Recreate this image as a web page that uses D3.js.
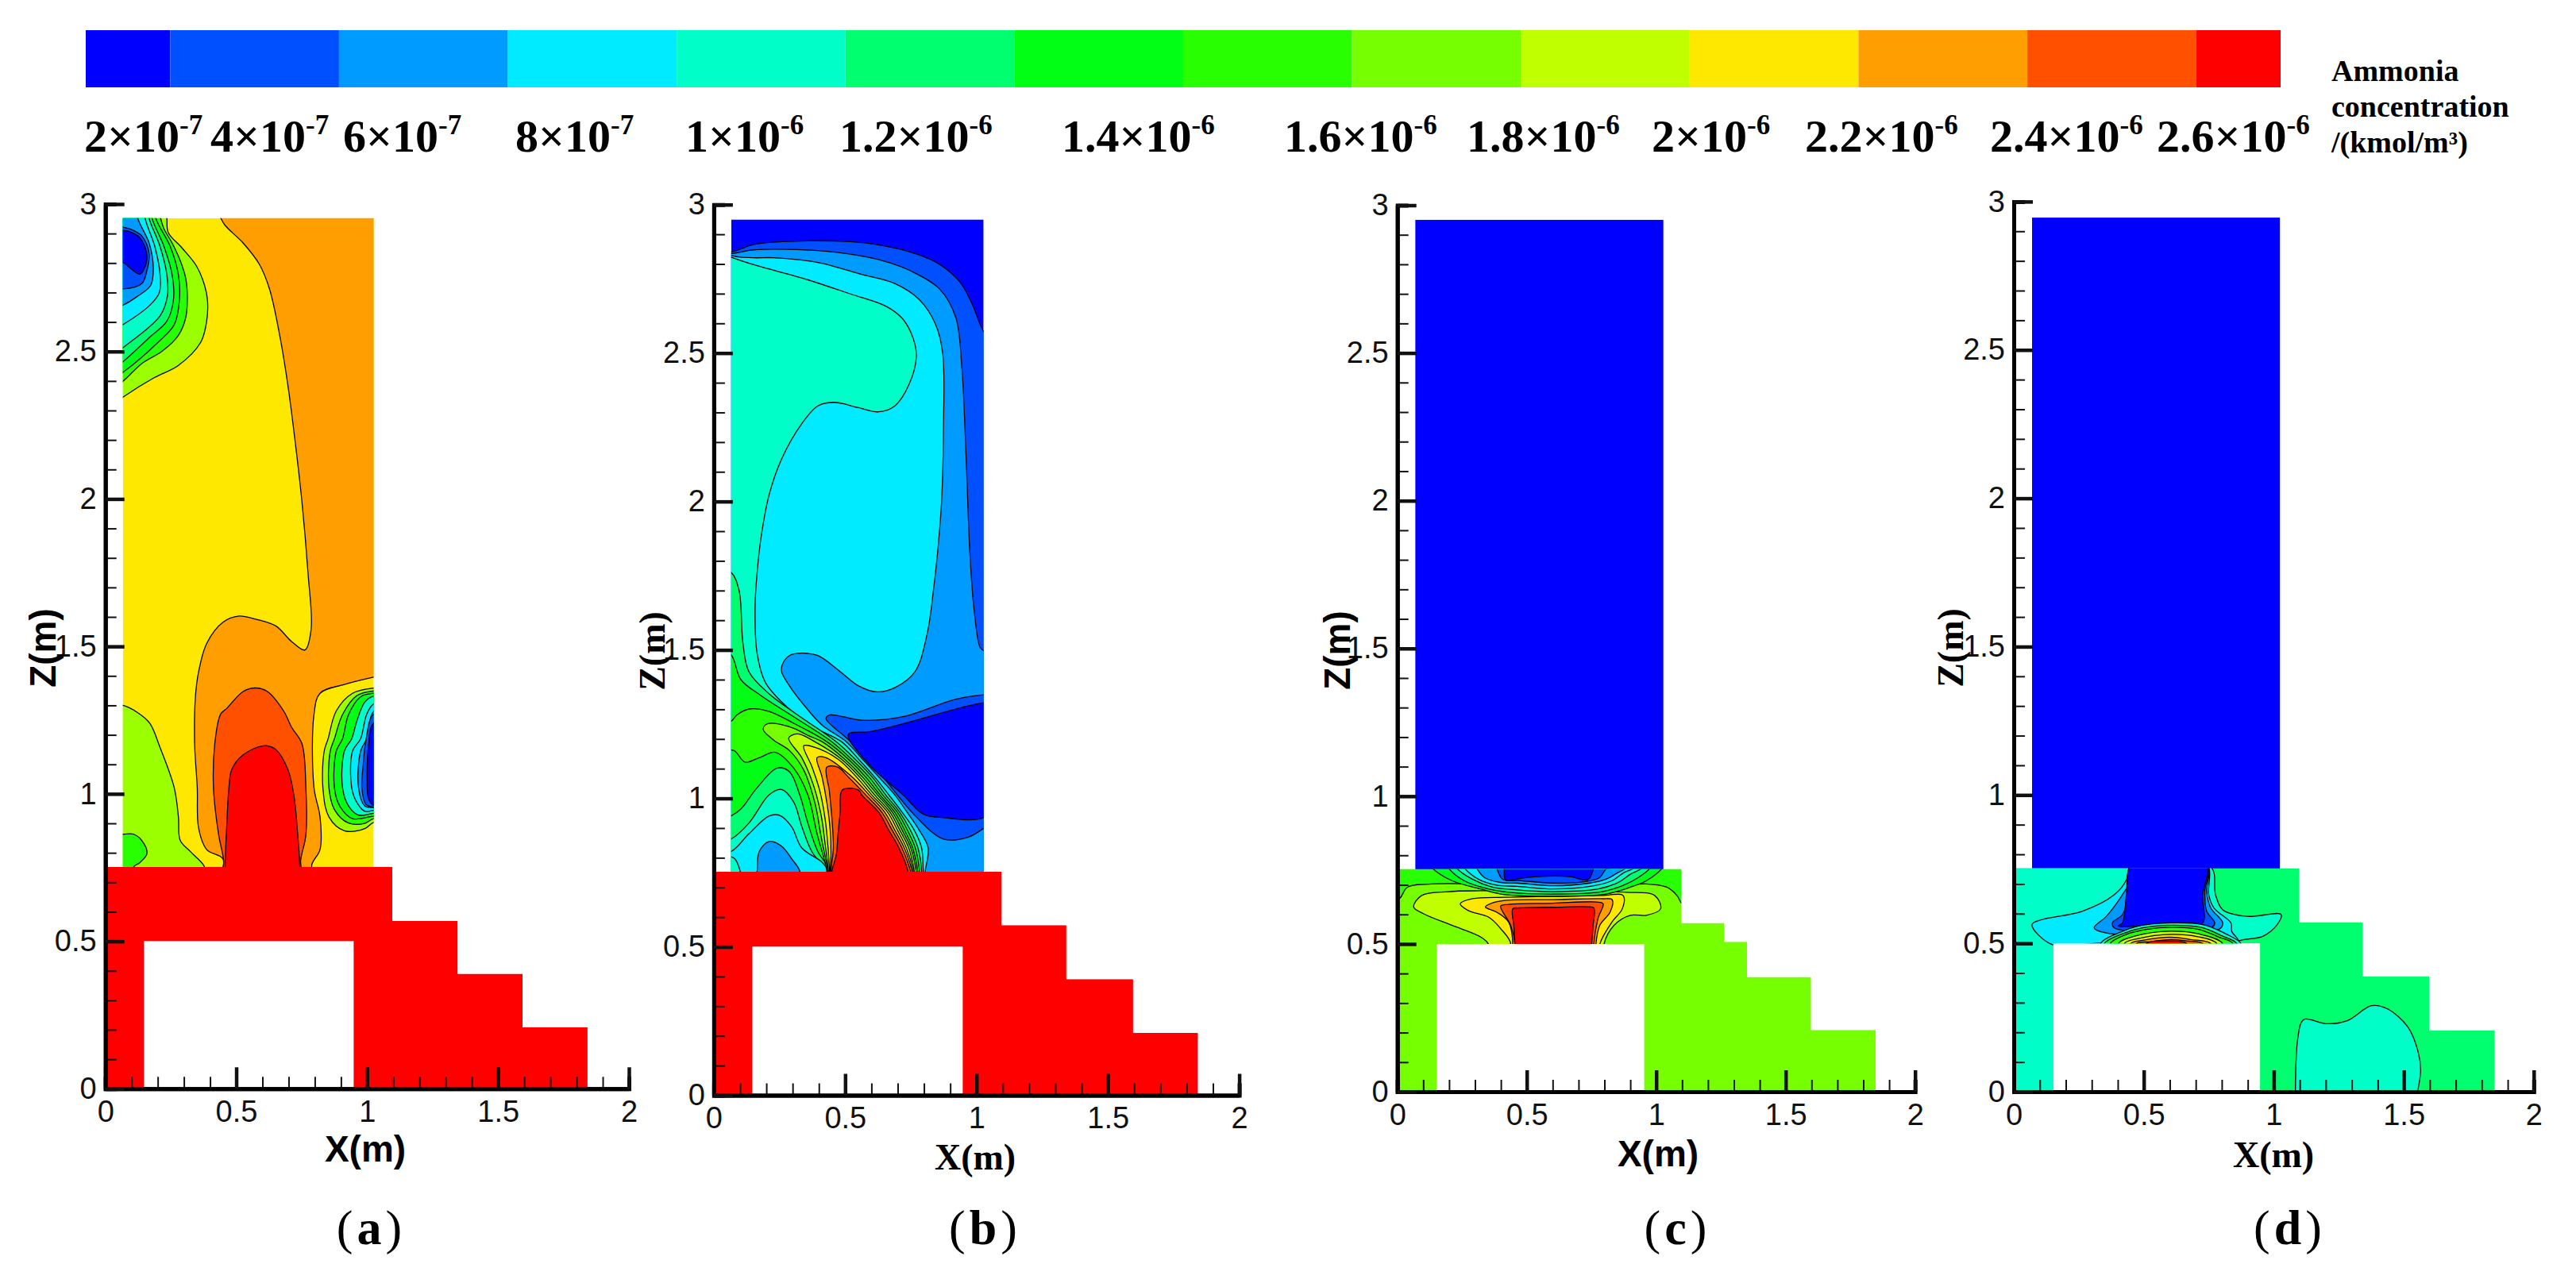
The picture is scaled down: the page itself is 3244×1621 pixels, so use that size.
<!DOCTYPE html>
<html>
<head>
<meta charset="utf-8">
<script src="https://cdn.jsdelivr.net/npm/d3@7"></script>
<style>
  html, body { margin: 0; background: #fff; }
  svg { display: block; }
</style>
</head>
<body>
<svg id="chart" width="3244" height="1621"></svg>
<script>
// concentration levels in units of 1e-7 kmol/m3, one colour per band
const legendLevels = [0, 2, 4, 6, 8, 10, 12, 14, 16, 18, 20, 22, 24, 26];
const legendColors = ['#0000ff', '#0050ff', '#009bff', '#00ebff', '#00ffc8', '#00ff6e', '#00ff14',
  '#28ff00', '#75ff00', '#bfff00', '#ffe800', '#ff9e00', '#ff5000', '#ff0000'];
const legendMantissa = ['2', '4', '6', '8', '1', '1.2', '1.4', '1.6', '1.8', '2', '2.2', '2.4', '2.6'];
const legendExponent = ['-7', '-7', '-7', '-7', '-6', '-6', '-6', '-6', '-6', '-6', '-6', '-6', '-6'];
const legendTitle = ['Ammonia', 'concentration', '/(kmol/m³)'];

const axisMajor = [0, 0.5, 1, 1.5, 2];
const zAxisMajor = [0, 0.5, 1, 1.5, 2, 2.5, 3];
const axisMinor = d3.range(1, 20).map(d => d / 10).filter(d => (d * 10) % 5 !== 0);
const zAxisMinor = d3.range(1, 30).map(d => d / 10).filter(d => (d * 10) % 5 !== 0);

// solid part of the geometry, [x, z] in metres
const outlineA = [[0, 0], [.148, 0], [.148, .5], [.948, .5], [.948, 0], [1.842, 0], [1.842, .209], [1.594, .209], [1.594, .39], [1.346, .39], [1.346, .569], [1.096, .569], [1.096, .752], [0, .752]];
const outlineB = [[0, 0], [.147, 0], [.147, .5], [.947, .5], [.947, 0], [1.843, 0], [1.843, .21], [1.596, .21], [1.596, .391], [1.342, .391], [1.342, .573], [1.095, .573], [1.095, .753], [0, .753]];
const outlineC = [[0, 0], [.152, 0], [.152, .5], [.953, .5], [.953, 0], [1.848, 0], [1.848, .209], [1.598, .209], [1.598, .388], [1.351, .388], [1.351, .5075], [1.263, .5075], [1.263, .571], [1.097, .571], [1.097, .753], [0, .753]];
const outlineD = [[0, 0], [.152, 0], [.152, .5], [.947, .5], [.947, 0], [1.85, 0], [1.85, .206], [1.598, .206], [1.598, .388], [1.342, .388], [1.342, .571], [1.098, .571], [1.098, .753], [0, .753]];

// contour regions: [level, [[x, z], ...]], painted in order
const contoursA = [
  [22, [[.42, 3], [.441, 2.952], [.457, 2.928], [.526, 2.868], [.588, 2.796], [.627, 2.712], [.666, 2.555], [.697, 2.387], [.72, 2.231], [.751, 1.99], [.774, 1.75], [.786, 1.558], [.762, 1.488], [.712, 1.516], [.65, 1.57], [.557, 1.596], [.511, 1.603], [.449, 1.582], [.387, 1.51], [.356, 1.413], [.344, 1.329], [.341, 1.17], [.351, 1.021], [.356, .885], [.387, .811], [.449, .78], [.452, .7], [.789, .7], [.789, .761], [.82, .811], [.82, .922], [.797, 1.021], [.797, 1.269], [.82, 1.341], [.913, 1.371], [1.025, 1.396], [1.1, 1.41], [1.1, 3]]],
  [24, [[.44, 1.27], [.464, 1.29], [.526, 1.347], [.573, 1.359], [.619, 1.347], [.681, 1.281], [.712, 1.225], [.751, 1.17], [.766, 1.021], [.766, .86], [.746, .774], [.746, .7], [.452, .7], [.452, .774], [.433, .86], [.413, 1.021], [.418, 1.17]]],
  [26, [[.457, .752], [.464, .897], [.472, 1.021], [.483, 1.083], [.526, 1.132], [.604, 1.163], [.65, 1.151], [.697, 1.083], [.72, .996], [.735, .86], [.743, .752], [.743, .7], [.457, .7]]],
  [17, [[0, 1.3], [.067, 1.3], [.124, 1.275], [.17, 1.239], [.209, 1.157], [.263, 1.021], [.279, .922], [.286, .842], [.325, .804], [.379, .752], [.38, .7], [0, .7]]],
  [14, [[0, .863], [.067, .863], [.108, .863], [.139, .842], [.159, .798], [.132, .767], [.108, .752], [.1, .7], [0, .7]]],
  [17, [[.23, 3], [.235, 2.952], [.24, 2.904], [.294, 2.85], [.348, 2.79], [.379, 2.724], [.39, 2.675], [.387, 2.603], [.364, 2.531], [.279, 2.453], [.186, 2.411], [.067, 2.345], [0, 2.3], [0, 3]]],
  [14, [[.2, 3], [.211, 2.952], [.224, 2.916], [.255, 2.868], [.286, 2.808], [.307, 2.748], [.313, 2.688], [.307, 2.615], [.279, 2.555], [.217, 2.501], [.139, 2.459], [.067, 2.399], [0, 2.36], [0, 3]]],
  [12, [[.19, 3], [.193, 2.952], [.248, 2.856], [.279, 2.76], [.283, 2.675], [.263, 2.591], [.201, 2.531], [.067, 2.429], [0, 2.39], [0, 3]]],
  [10, [[.17, 3], [.178, 2.952], [.224, 2.856], [.255, 2.76], [.26, 2.675], [.235, 2.603], [.17, 2.549], [.067, 2.465], [0, 2.42], [0, 3]]],
  [8, [[.16, 3], [.167, 2.952], [.209, 2.856], [.235, 2.76], [.237, 2.688], [.209, 2.621], [.067, 2.513], [0, 2.47], [0, 3]]],
  [6, [[.15, 3], [.152, 2.952], [.189, 2.856], [.209, 2.76], [.206, 2.7], [.17, 2.657], [.067, 2.591], [0, 2.56], [0, 3]]],
  [4, [[.12, 3], [.124, 2.952], [.167, 2.868], [.183, 2.784], [.173, 2.724], [.124, 2.688], [.067, 2.657], [0, 2.64], [0, 3]]],
  [2, [[0, 2.72], [.067, 2.712], [.139, 2.73], [.158, 2.772], [.167, 2.832], [.139, 2.892], [.093, 2.916], [.067, 2.922], [0, 2.93]]],
  [0, [[0, 2.8], [.067, 2.802], [.093, 2.784], [.132, 2.762], [.155, 2.796], [.158, 2.832], [.132, 2.886], [.093, 2.906], [.067, 2.91], [0, 2.91]]],
  [17, [[1.1, 1.36], [1.025, 1.359], [.944, 1.341], [.882, 1.281], [.851, 1.187], [.836, 1.145], [.831, 1.021], [.854, .922], [.913, .875], [.991, .882], [1.025, .903], [1.1, .9]]],
  [14, [[1.1, 1.35], [1.025, 1.349], [.96, 1.333], [.906, 1.269], [.875, 1.187], [.859, 1.145], [.854, 1.021], [.875, .947], [.929, .901], [.991, .9], [1.025, .916], [1.1, .915]]],
  [12, [[1.1, 1.34], [1.025, 1.341], [.975, 1.329], [.929, 1.269], [.906, 1.187], [.882, 1.145], [.875, 1.021], [.895, .959], [.944, .916], [1.025, .924], [1.1, .925]]],
  [8, [[1.1, 1.33], [1.025, 1.332], [.991, 1.311], [.96, 1.245], [.941, 1.187], [.913, 1.145], [.906, 1.021], [.929, .959], [.967, .928], [1.025, .934], [1.1, .935]]],
  [6, [[1.1, 1.31], [1.025, 1.305], [.998, 1.269], [.975, 1.187], [.944, 1.145], [.941, 1.021], [.96, .972], [.991, .941], [1.025, .944], [1.1, .945]]],
  [4, [[1.1, 1.29], [1.025, 1.28], [.998, 1.187], [.975, 1.145], [.967, 1.021], [.991, .959], [1.025, .953], [1.1, .955]]],
  [2, [[1.1, 1.27], [1.025, 1.27], [.995, 1.18], [.985, 1.1], [.98, 1.02], [.995, .965], [1.025, .955], [1.1, .96]]],
  [0, [[1.1, 1.24], [1.025, 1.24], [1.005, 1.16], [1, 1.05], [1.005, .985], [1.025, .96], [1.1, .965]]]
];

const contoursB = [
  [2, [[0, 2.85], [.066, 2.841], [.15, 2.865], [.258, 2.875], [.52, 2.875], [.643, 2.862], [.767, 2.835], [.859, 2.799], [.936, 2.74], [.982, 2.668], [1.027, 2.573], [1.1, 2.5], [1.1, .7], [0, .7]]],
  [4, [[0, 2.84], [.066, 2.835], [.15, 2.847], [.35, 2.847], [.504, 2.835], [.643, 2.811], [.751, 2.776], [.859, 2.716], [.921, 2.62], [.944, 2.453], [.959, 2.179], [.975, 1.821], [.99, 1.642], [1.013, 1.51], [1.027, 1.498], [1.1, 1.49], [1.1, .7], [0, .7]]],
  [2, [[.427, 1.269], [.443, 1.281], [.566, 1.263], [.72, 1.275], [.921, 1.334], [1.027, 1.349], [1.1, 1.35], [1.1, .95], [1.027, .899], [.967, .869], [.874, .863], [.767, .941], [.643, 1.072], [.52, 1.191]]],
  [0, [[.512, 1.215], [.597, 1.225], [.72, 1.251], [1.027, 1.322], [1.1, 1.32], [1.1, 1], [1.027, .935], [.874, .935], [.797, .947], [.72, 1.012], [.597, 1.108]]],
  [6, [[0, 2.87], [.066, 2.829], [.15, 2.821], [.227, 2.821], [.396, 2.805], [.566, 2.764], [.689, 2.734], [.782, 2.68], [.844, 2.597], [.871, 2.501], [.874, 2.239], [.867, 2], [.851, 1.821], [.836, 1.701], [.813, 1.558], [.766, 1.427], [.689, 1.373], [.62, 1.359], [.551, 1.379], [.473, 1.433], [.396, 1.481], [.335, 1.489], [.288, 1.481], [.261, 1.451], [.258, 1.427], [.288, 1.379], [.35, 1.307], [.412, 1.247], [.504, 1.191], [.566, 1.132], [.628, 1.072], [.689, 1.012], [.736, .953], [.782, .893], [.816, .833], [.805, .756], [.8, .7], [0, .7]]],
  [8, [[0, 2.85], [.066, 2.823], [.165, 2.794], [.335, 2.753], [.52, 2.699], [.659, 2.656], [.72, 2.614], [.759, 2.549], [.771, 2.489], [.743, 2.394], [.689, 2.322], [.628, 2.302], [.551, 2.316], [.458, 2.334], [.396, 2.322], [.335, 2.262], [.258, 2.143], [.211, 2.024], [.18, 1.88], [.165, 1.761], [.157, 1.642], [.165, 1.487], [.196, 1.391], [.258, 1.325], [.366, 1.247], [.486, 1.191], [.551, 1.132], [.612, 1.072], [.666, 1.012], [.717, .953], [.763, .893], [.791, .833], [.797, .756], [.8, .7], [0, .7]]],
  [10, [[0, 1.78], [.066, 1.761], [.096, 1.701], [.111, 1.522], [.134, 1.426], [.211, 1.352], [.319, 1.281], [.466, 1.191], [.538, 1.132], [.603, 1.072], [.654, 1.012], [.708, .953], [.748, .893], [.777, .833], [.791, .756], [.79, .7], [0, .7]]],
  [12, [[0, 1.52], [.066, 1.484], [.103, 1.4], [.18, 1.346], [.304, 1.275], [.449, 1.191], [.524, 1.132], [.591, 1.072], [.643, 1.012], [.699, .953], [.737, .893], [.767, .833], [.783, .756], [.785, .7], [0, .7]]],
  [10, [[0, .92], [.066, .941], [.103, .964], [.165, 1.036], [.242, 1.102], [.288, 1.09], [.327, 1.012], [.358, .917], [.396, .821], [.443, .756], [.45, .7], [0, .7]]],
  [8, [[0, .85], [.066, .863], [.134, .917], [.211, 1.012], [.258, 1.03], [.304, .988], [.335, .905], [.373, .821], [.427, .756], [.44, .7], [0, .7]]],
  [6, [[0, .81], [.066, .821], [.134, .881], [.211, .941], [.25, .943], [.296, .905], [.335, .833], [.412, .785], [.435, .756], [.44, .7], [0, .7]]],
  [4, [[.165, .756], [.173, .821], [.211, .855], [.258, .839], [.296, .797], [.327, .756], [.33, .7], [.16, .7]]],
  [8, [[0, .8], [.075, .8], [.095, .77], [.105, .7], [0, .7]]],
  [14, [[0, 1.25], [.066, 1.26], [.088, 1.281], [.134, 1.301], [.211, 1.293], [.304, 1.253], [.43, 1.191], [.512, 1.132], [.578, 1.072], [.632, 1.012], [.689, .953], [.726, .893], [.757, .833], [.776, .756], [.78, .7], [.43, .7], [.43, .756], [.393, .881], [.358, 1.012], [.304, 1.102], [.234, 1.155], [.173, 1.137], [.119, 1.122], [.077, 1.161], [0, 1.17]]],
  [16, [[.188, 1.233], [.204, 1.251], [.288, 1.241], [.366, 1.209], [.412, 1.191], [.498, 1.132], [.566, 1.072], [.623, 1.012], [.68, .953], [.717, .893], [.75, .833], [.77, .756], [.775, .7], [.433, .7], [.433, .756], [.409, .869], [.384, .988], [.342, 1.096], [.288, 1.161], [.227, 1.197]]],
  [18, [[.285, 1.203], [.319, 1.217], [.396, 1.185], [.486, 1.132], [.555, 1.072], [.612, 1.012], [.671, .953], [.708, .893], [.742, .833], [.763, .756], [.77, .7], [.436, .7], [.436, .756], [.424, .845], [.409, .941], [.378, 1.048], [.335, 1.137]]],
  [20, [[.342, 1.177], [.381, 1.173], [.473, 1.132], [.543, 1.072], [.601, 1.012], [.662, .953], [.699, .893], [.733, .833], [.759, .756], [.765, .7], [.44, .7], [.44, .756], [.435, .833], [.424, .929], [.404, 1.024], [.373, 1.108]]],
  [22, [[.393, 1.137], [.427, 1.137], [.527, 1.072], [.591, 1.012], [.651, .953], [.689, .893], [.725, .833], [.754, .756], [.76, .7], [.443, .7], [.443, .756], [.446, .809], [.443, .893], [.43, .988], [.412, 1.072]]],
  [24, [[.43, 1.105], [.473, 1.105], [.512, 1.072], [.578, 1.012], [.64, .953], [.679, .893], [.716, .833], [.748, .756], [.755, .7], [.446, .7], [.446, .756], [.455, .833], [.45, .929], [.44, 1.024]]],
  [26, [[.489, 1.028], [.551, 1.028], [.563, 1.012], [.628, .953], [.666, .893], [.705, .833], [.739, .756], [.745, .7], [.45, .7], [.45, .756], [.466, .809], [.473, .881], [.481, .953]]]
];

const contoursC = [
  [14, [[-.1, .8], [1.15, .8], [1.15, .62], [1.1, .636], [1.08, .664], [1.041, .692], [.962, .703], [.822, .697], [.6, .697], [.399, .697], [.29, .703], [.133, .703], [.039, .692], [.008, .653], [-.1, .6]]],
  [18, [[.063, .625], [.094, .664], [.196, .677], [.321, .68], [.6, .678], [.884, .675], [.994, .664], [1.017, .619], [.962, .597], [.9, .597], [.837, .563], [.798, .499], [.798, .45], [.35, .45], [.352, .499], [.321, .524], [.211, .563], [.102, .602]]],
  [20, [[.243, .636], [.29, .653], [.415, .658], [.6, .661], [.79, .664], [.872, .664], [.869, .619], [.829, .574], [.782, .499], [.782, .45], [.4, .45], [.438, .499], [.399, .552], [.352, .591], [.274, .613]]],
  [22, [[.34, .625], [.368, .639], [.42, .648], [.6, .65], [.79, .653], [.83, .65], [.822, .608], [.782, .563], [.767, .499], [.767, .45], [.44, .45], [.446, .499], [.43, .574], [.383, .608]]],
  [24, [[.399, .628], [.43, .634], [.6, .638], [.77, .642], [.795, .636], [.775, .586], [.759, .499], [.759, .45], [.45, .45], [.454, .499], [.438, .563]]],
  [26, [[.446, .619], [.47, .622], [.6, .624], [.735, .626], [.759, .622], [.756, .56], [.751, .499], [.751, .45], [.454, .45], [.454, .499], [.45, .56]]],
  [12, [[.1, .8], [.133, .758], [.211, .714], [.321, .686], [.399, .669], [.603, .661], [.806, .669], [.9, .692], [.962, .714], [1.025, .758], [1.05, .8]]],
  [10, [[.17, .8], [.196, .758], [.258, .714], [.352, .686], [.43, .675], [.603, .669], [.79, .677], [.869, .697], [.931, .725], [.978, .758], [1, .8]]],
  [8, [[.2, .8], [.227, .758], [.29, .719], [.368, .692], [.446, .684], [.603, .677], [.775, .686], [.853, .708], [.9, .736], [.947, .758], [.97, .8]]],
  [6, [[.23, .8], [.258, .758], [.313, .719], [.383, .699], [.462, .695], [.603, .686], [.759, .697], [.829, .714], [.876, .742], [.915, .758], [.94, .8]]],
  [4, [[.28, .8], [.305, .758], [.336, .725], [.399, .708], [.462, .706], [.603, .697], [.743, .706], [.806, .719], [.853, .742], [.884, .758], [.91, .8]]],
  [2, [[.36, .8], [.383, .758], [.407, .719], [.477, .714], [.603, .706], [.728, .711], [.782, .725], [.806, .753], [.829, .758], [.85, .8]]],
  [0, [[.4, .8], [.412, .758], [.418, .717], [.477, .722], [.54, .728], [.665, .728], [.736, .717], [.759, .758], [.77, .8]]]
];

const contoursD = [
  [8, [[.5, .8], [.758, .758], [.776, .664], [.804, .613], [.897, .591], [1.028, .597], [1.013, .563], [.959, .524], [.851, .499], [.851, .4], [.5, -.1], [-.1, -.1], [-.1, .8]]],
  [8, [[1.083, -.05], [1.083, 0], [1.09, .162], [1.106, .234], [1.121, .245], [1.206, .229], [1.284, .24], [1.376, .29], [1.438, .279], [1.516, .218], [1.554, .139], [1.565, .073], [1.554, 0], [1.55, -.05]]],
  [6, [[.07, .563], [.108, .58], [.263, .608], [.387, .664], [.433, .714], [.445, .758], [.5, .8], [.7, .8], [.75, .758], [.75, .664], [.77, .619], [.835, .569], [.838, .541], [.866, .502], [.356, .502], [.147, .496]]],
  [4, [[.309, .552], [.356, .591], [.418, .664], [.449, .714], [.445, .758], [.5, .8], [.7, .8], [.75, .758], [.742, .675], [.758, .619], [.804, .569], [.789, .547], [.356, .535]]],
  [2, [[.379, .569], [.418, .597], [.441, .664], [.445, .758], [.5, .8], [.7, .8], [.748, .758], [.735, .675], [.742, .608], [.773, .569], [.758, .552], [.387, .552]]],
  [0, [[.418, .569], [.433, .664], [.445, .758], [.5, .8], [.7, .8], [.745, .758], [.727, .664], [.727, .569], [.665, .561], [.541, .561], [.402, .558]]],
  [8, [[.333, .499], [.402, .535], [.479, .558], [.603, .569], [.727, .563], [.82, .53], [.874, .499], [.874, .45], [.333, .45]]],
  [12, [[.348, .499], [.418, .532], [.495, .552], [.603, .561], [.719, .554], [.804, .524], [.858, .499], [.858, .45], [.348, .45]]],
  [14, [[.371, .499], [.433, .53], [.51, .547], [.603, .554], [.711, .547], [.789, .521], [.843, .499], [.843, .45], [.371, .45]]],
  [18, [[.402, .499], [.464, .524], [.603, .541], [.711, .532], [.804, .499], [.804, .45], [.402, .45]]],
  [20, [[.425, .499], [.479, .516], [.603, .53], [.704, .523], [.781, .499], [.781, .45], [.425, .45]]],
  [22, [[.449, .499], [.495, .51], [.603, .521], [.68, .513], [.758, .499], [.758, .45], [.449, .45]]],
  [24, [[.472, .499], [.526, .505], [.603, .513], [.665, .508], [.727, .499], [.727, .45], [.472, .45]]],
  [26, [[.51, .499], [.603, .508], [.665, .499], [.665, .45], [.51, .45]]]
];

const panels = [
  {id: 'a', xRange: [132.7, 792], zRange: [1371.3, 257], fluidX: [.0666, 1.025], fluidTop: 2.952,
    outline: outlineA, fluidBase: 20, solidBase: 26, fluid: contoursA, solid: [],
    labelFont: 'Liberation Sans', xLabel: [460, 1463], zLabel: [70, 816], caption: 'a', captionAt: [465, 1567]},
  {id: 'b', xRange: [898.9, 1560.6], zRange: [1379.5, 257.7], fluidX: [.0663, 1.027], fluidTop: 2.95,
    outline: outlineB, fluidBase: 0, solidBase: 26, fluid: contoursB, solid: [],
    labelFont: 'Liberation Serif', xLabel: [1228, 1473], zLabel: [837, 820], caption: 'b', captionAt: [1238, 1567]},
  {id: 'c', xRange: [1759.7, 2411.7], zRange: [1375, 258.5], fluidX: [.069, 1.028], fluidTop: 2.951,
    outline: outlineC, fluidBase: 0, solidBase: 16, fluid: [], solid: contoursC,
    labelFont: 'Liberation Sans', xLabel: [2088, 1469], zLabel: [1700, 819], caption: 'c', captionAt: [2110, 1567]},
  {id: 'd', xRange: [2536, 3190.8], zRange: [1375, 253.9], fluidX: [.07, 1.024], fluidTop: 2.946,
    outline: outlineD, fluidBase: 0, solidBase: 10, fluid: [], solid: contoursD,
    labelFont: 'Liberation Serif', xLabel: [2863, 1470], zLabel: [2472, 816], caption: 'd', captionAt: [2881, 1567]}
];

const svg = d3.select('#chart');
const defs = svg.append('defs');

// 17 is the yellow-green between two legend bands seen in panel (a)
const flood = d3.scaleOrdinal([...legendLevels, 17], [...legendColors, '#9cff00']);

// legend bar: each band is centred on its level
const legendX = d3.scaleLinear([0, 26], [108, 2872]);
svg.append('g')
  .selectAll('rect')
  .data(legendLevels)
  .join('rect')
  .attr('x', d => legendX(Math.max(d - 1, 0)))
  .attr('y', 38)
  .attr('width', d => legendX(Math.min(d + 1, 26)) - legendX(Math.max(d - 1, 0)))
  .attr('height', 72)
  .attr('fill', d => flood(d));

// labels were placed by hand in the figure, they do not sit on the bands
const legendLabelLeft = [106, 265, 432, 649, 863, 1057, 1337, 1617, 1847, 2080, 2273, 2506, 2716];
const legendLabels = svg.append('g')
  .attr('font-family', 'Liberation Serif')
  .attr('font-size', 58)
  .attr('font-weight', 'bold')
  .selectAll('text')
  .data(legendMantissa)
  .join('text')
  .attr('x', (d, i) => legendLabelLeft[i])
  .attr('y', 191);
legendLabels.append('tspan').text(d => d + '×10');
legendLabels.append('tspan')
  .attr('font-size', 35)
  .attr('dy', -22)
  .text((d, i) => legendExponent[i]);

svg.append('g')
  .attr('font-family', 'Liberation Serif')
  .attr('font-size', 38)
  .attr('font-weight', 'bold')
  .selectAll('text')
  .data(legendTitle)
  .join('text')
  .attr('x', 2936)
  .attr('y', (d, i) => 102 + i * 45)
  .text(d => d);

const contourPath = d3.line().curve(d3.curveCatmullRomClosed.alpha(0.5));

panels.forEach(p => {
  const x = d3.scaleLinear([0, 2], p.xRange);
  const z = d3.scaleLinear([0, 3], p.zRange);
  const g = svg.append('g');
  const px = pts => pts.map(d => [x(d[0]), z(d[1])]);
  const polygon = pts => 'M' + px(pts).join('L') + 'Z';

  defs.append('clipPath').attr('id', 'fluid-' + p.id)
    .append('rect')
    .attr('x', x(p.fluidX[0]))
    .attr('y', z(p.fluidTop))
    .attr('width', x(p.fluidX[1]) - x(p.fluidX[0]))
    .attr('height', z(0.75) - z(p.fluidTop));
  defs.append('clipPath').attr('id', 'solid-' + p.id)
    .append('path')
    .attr('d', polygon(p.outline));

  const fluid = g.append('g').attr('clip-path', `url(#fluid-${p.id})`);
  fluid.append('rect')
    .attr('x', x(p.fluidX[0]))
    .attr('y', z(p.fluidTop))
    .attr('width', x(p.fluidX[1]) - x(p.fluidX[0]))
    .attr('height', z(0.7) - z(p.fluidTop))
    .attr('fill', flood(p.fluidBase));
  const solid = g.append('g').attr('clip-path', `url(#solid-${p.id})`);
  solid.append('path')
    .attr('d', polygon(p.outline))
    .attr('fill', flood(p.solidBase));

  [[fluid, p.fluid], [solid, p.solid]].forEach(([layer, regions]) => {
    layer.selectAll('path.contour')
      .data(regions)
      .join('path')
      .attr('class', 'contour')
      .attr('d', d => contourPath(px(d[1])))
      .attr('fill', d => flood(d[0]))
      .attr('stroke', '#000')
      .attr('stroke-width', 1.3);
  });

  // axes: ticks point inwards, minor every 0.1
  const axisFont = sel => sel.attr('font-family', 'Liberation Sans').attr('font-size', 38);
  const style = (sel, w) => {
    sel.selectAll('.tick line').attr('stroke', '#111').attr('stroke-width', w);
    sel.select('.domain').attr('stroke', '#000').attr('stroke-width', 5);
    sel.selectAll('.tick text').attr('fill', '#111');
  };
  const xG = g.append('g').attr('transform', `translate(0,${z(0)})`);
  xG.append('g').call(d3.axisBottom(x).tickValues(axisMinor).tickSize(-15).tickFormat('')).call(style, 2);
  xG.append('g').call(d3.axisBottom(x).tickValues(axisMajor).tickSizeInner(-27).tickSizeOuter(0).tickPadding(15).tickFormat(d => d))
    .call(axisFont).call(style, 4.5);
  const zG = g.append('g').attr('transform', `translate(${x(0)},0)`);
  zG.append('g').call(d3.axisLeft(z).tickValues(zAxisMinor).tickSize(-14).tickFormat('')).call(style, 2);
  zG.append('g').call(d3.axisLeft(z).tickValues(zAxisMajor).tickSizeInner(-24).tickSizeOuter(0).tickPadding(11).tickFormat(d => d))
    .call(axisFont).call(style, 4.5);

  const label = g.append('g')
    .attr('font-family', p.labelFont)
    .attr('font-size', 46)
    .attr('font-weight', 'bold')
    .attr('text-anchor', 'middle');
  label.append('text')
    .attr('x', p.xLabel[0])
    .attr('y', p.xLabel[1])
    .text('X(m)');
  label.append('text')
    .attr('transform', `translate(${p.zLabel[0]},${p.zLabel[1]}) rotate(-90)`)
    .text('Z(m)');

  const caption = g.append('text')
    .attr('x', p.captionAt[0])
    .attr('y', p.captionAt[1])
    .attr('text-anchor', 'middle')
    .attr('font-family', 'Liberation Serif')
    .attr('font-size', 62);
  caption.append('tspan').text('(');
  caption.append('tspan').attr('font-weight', 'bold').attr('dx', 5).text(p.caption);
  caption.append('tspan').attr('dx', 5).text(')');
});
</script>
</body>
</html>
